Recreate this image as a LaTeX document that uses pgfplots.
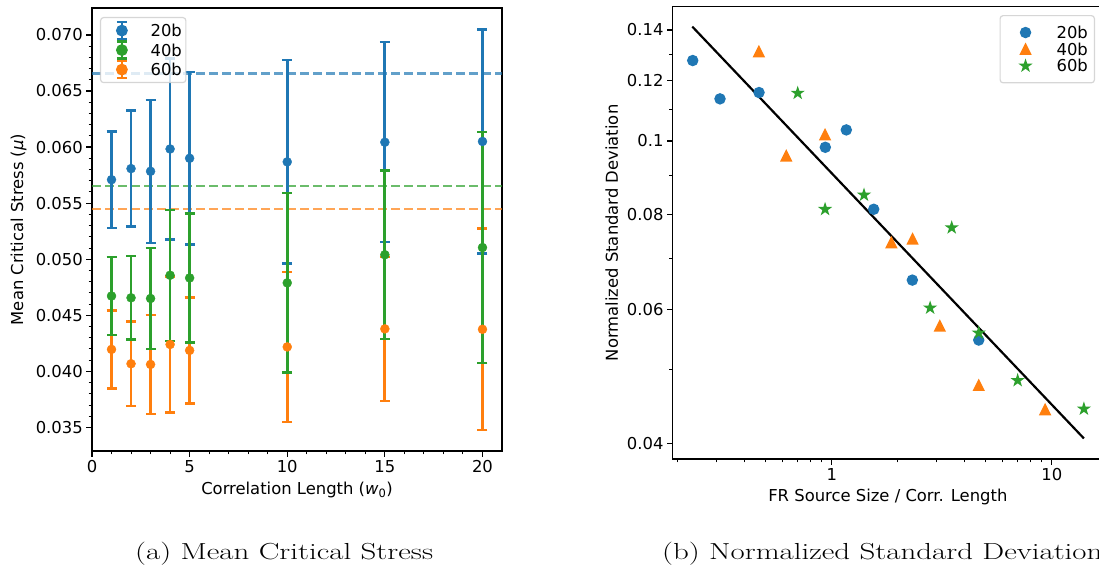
\documentclass[border=0pt]{standalone}
\usepackage{fontspec}
\usepackage{graphicx}
\usepackage{pgfplots}
\pgfplotsset{compat=1.18}

\newfontfamily\dejavu{DejaVu Sans}
\newcommand{\plotfont}{\dejavu\fontsize{16.4pt}{19pt}\selectfont}

\definecolor{tabblue}{HTML}{1F77B4}
\definecolor{taborange}{HTML}{FF7F0E}
\definecolor{tabgreen}{HTML}{2CA02C}

% matplotlib-like triangle and filled star marks
\pgfdeclareplotmark{mtri}{%
  \pgfpathmoveto{\pgfqpoint{0pt}{\pgfplotmarksize}}%
  \pgfpathlineto{\pgfqpoint{-\pgfplotmarksize}{-\pgfplotmarksize}}%
  \pgfpathlineto{\pgfqpoint{\pgfplotmarksize}{-\pgfplotmarksize}}%
  \pgfpathclose\pgfusepathqfillstroke}
\pgfdeclareplotmark{fstar}{%
  \pgfpathmoveto{\pgfpointpolar{90}{\pgfplotmarksize}}%
  \pgfpathlineto{\pgfpointpolar{126}{0.382\pgfplotmarksize}}%
  \pgfpathlineto{\pgfpointpolar{162}{\pgfplotmarksize}}%
  \pgfpathlineto{\pgfpointpolar{198}{0.382\pgfplotmarksize}}%
  \pgfpathlineto{\pgfpointpolar{234}{\pgfplotmarksize}}%
  \pgfpathlineto{\pgfpointpolar{270}{0.382\pgfplotmarksize}}%
  \pgfpathlineto{\pgfpointpolar{306}{\pgfplotmarksize}}%
  \pgfpathlineto{\pgfpointpolar{342}{0.382\pgfplotmarksize}}%
  \pgfpathlineto{\pgfpointpolar{18}{\pgfplotmarksize}}%
  \pgfpathlineto{\pgfpointpolar{54}{0.382\pgfplotmarksize}}%
  \pgfpathclose\pgfusepathqfillstroke}

% legend symbol for an error-bar series
\newcommand{\errlegendimg}[1]{%
  \path[use as bounding box, draw=none, fill=none] (0pt,-6pt) rectangle (36pt,6pt);
  \begin{scope}[opacity=1, sharp corners, #1, line width=2.7pt]
    \draw (17.3pt,-8.5pt) -- (17.3pt,8.5pt);
    \draw[line width=2.4pt] (12.3pt,-8.5pt) -- (22.3pt,-8.5pt) (12.3pt,8.5pt) -- (22.3pt,8.5pt);
    \fill (17.3pt,0pt) circle (4.5pt);
  \end{scope}}

\pgfplotsset{
  mplstyle/.style={
    scale only axis,
    axis line style={line width=1.2pt, black},
    tick align=outside, tick pos=left,
    major tick length=5.7pt, minor tick length=3.3pt,
    major tick style={line width=1.2pt, black},
    minor tick style={line width=1pt, black},
    tick label style={font=\plotfont},
    label style={font=\plotfont},
    legend cell align=left,
    legend style={font=\plotfont, draw=black!20, line width=1.2pt,
      rounded corners=3pt, fill=white, fill opacity=0.8, draw opacity=0.8,
      text opacity=1,
      nodes={inner sep=0pt, text height=12pt, text depth=0pt}},
  },
  errseries/.style={only marks, mark=*, mark size=4.5pt, #1,
    mark options={fill=#1, draw=#1, line width=0.4pt},
    /pgfplots/error bars/y dir=both,
    /pgfplots/error bars/y explicit,
    /pgfplots/error bars/error mark=|,
    /pgfplots/error bars/error bar style={line width=2.8pt, #1},
    /pgfplots/error bars/error mark options={line width=2.4pt, mark size=5pt, #1}},
  meanline/.style={#1, opacity=0.7, line width=2.4pt,
    dash pattern=on 9pt off 4pt, forget plot},
  dotseries/.style={only marks, #1, mark options={fill=#1, draw=#1, line width=1.6pt},
    legend image code/.code={%
      \path[use as bounding box, draw=none, fill=none] (0pt,-6pt) rectangle (36pt,6pt);
      \draw[opacity=1, sharp corners, ##1] plot coordinates {(18.9pt,0pt)};}},
}

\begin{document}
\begin{tikzpicture}
\path[use as bounding box] (0pt,0pt) rectangle (1099pt,571pt);

% ---------------- (a) mean critical stress ----------------
\begin{axis}[mplstyle,
  at={(92pt,120pt)}, anchor=south west, width=410pt, height=443pt,
  xmin=0, xmax=21, ymin=0.0329, ymax=0.0724,
  xtick={0,5,10,15,20}, xticklabels={0,5,10,15,20}, minor x tick num=4,
  ytick={0.035,0.040,0.045,0.050,0.055,0.060,0.065,0.070},
  yticklabels={0.035,0.040,0.045,0.050,0.055,0.060,0.065,0.070},
  minor y tick num=4, scaled y ticks=false,
  xlabel={Correlation Length (\textit{w}\textsubscript{0})},
  ylabel={Mean Critical Stress (\textit{μ})},
  xlabel style={at={(axis description cs:0.5,-0.088)}, anchor=center},
  ylabel style={at={(axis description cs:-0.179,0.5)}, anchor=center},
  legend style={at={(0.0195,0.9797)}, anchor=north west,
    inner xsep=4pt, inner ysep=7pt, /tikz/row sep=7.5pt, /tikz/column sep=10pt},
]
\addplot[meanline=tabblue] coordinates {(0,0.06655) (21,0.06655)};
\addplot[meanline=tabgreen] coordinates {(0,0.05654) (21,0.05654)};
\addplot[meanline=taborange] coordinates {(0,0.05449) (21,0.05449)};

% 20b
\addplot[forget plot, errseries=tabblue] coordinates {
  (1,0.05709) +- (0,0.00429)
  (2,0.05808) +- (0,0.00517)
  (3,0.05784) +- (0,0.00637)
  (4,0.05983) +- (0,0.00808)
  (5,0.05900) +- (0,0.00770)
  (10,0.05868) +- (0,0.00906)
  (15,0.06043) +- (0,0.00892)
  (20,0.06050) +- (0,0.01000)
};
% 60b
\addplot[forget plot, errseries=taborange] coordinates {
  (1,0.04196) +- (0,0.00348)
  (2,0.04068) +- (0,0.00377)
  (3,0.04062) +- (0,0.00440)
  (4,0.04240) +- (0,0.00606)
  (5,0.04187) +- (0,0.00473)
  (10,0.04218) +- (0,0.00667)
  (15,0.04379) +- (0,0.00641)
  (20,0.04375) +- (0,0.00900)
};
% 40b
\addplot[forget plot, errseries=tabgreen] coordinates {
  (1,0.04672) +- (0,0.00349)
  (2,0.04656) +- (0,0.00372)
  (3,0.04650) +- (0,0.00449)
  (4,0.04857) +- (0,0.00584)
  (5,0.04833) +- (0,0.00575)
  (10,0.04789) +- (0,0.00800)
  (15,0.05040) +- (0,0.00752)
  (20,0.05104) +- (0,0.01030)
};

\addlegendimage{legend image code/.code={\errlegendimg{tabblue}}}
\addlegendentry{20b}
\addlegendimage{legend image code/.code={\errlegendimg{tabgreen}}}
\addlegendentry{40b}
\addlegendimage{legend image code/.code={\errlegendimg{taborange}}}
\addlegendentry{60b}
\end{axis}

% ---------------- (b) normalized standard deviation ----------------
\begin{axis}[mplstyle, xmode=log, ymode=log,
  at={(672.7pt,112pt)}, anchor=south west, width=430.3pt, height=452.3pt,
  xmin=0.1894, xmax=17.1, ymin=0.03815, ymax=0.1502,
  xtick={1,10}, xticklabels={1,10},
  minor xtick={0.2,0.3,0.4,0.5,0.6,0.7,0.8,0.9,2,3,4,5,6,7,8,9},
  ytick={0.04,0.06,0.08,0.1,0.12,0.14},
  yticklabels={0.04,0.06,0.08,0.1,0.12,0.14},
  minor ytick={0.05,0.07,0.09,0.11,0.13},
  xlabel={FR Source Size / Corr. Length},
  ylabel={Normalized Standard Deviation},
  xlabel style={at={(axis description cs:0.5,-0.0834)}, anchor=center},
  ylabel style={at={(axis description cs:-0.1418,0.5)}, anchor=center},
  legend style={at={(0.9814,0.9816)}, anchor=north east,
    inner xsep=6.5pt, inner ysep=10.9pt, /tikz/row sep=4.7pt, /tikz/column sep=14pt},
]
\addplot[black, line width=2.2pt, forget plot] coordinates {(0.2325,0.1414) (14.0,0.0406)};

\addplot[dotseries=tabblue, mark=*, mark size=4.9pt] coordinates {
  (0.2335,0.1276) (0.3107,0.1136) (0.4673,0.1158) (0.9352,0.0981)
  (1.165,0.1034) (1.552,0.0813) (2.325,0.0656) (4.658,0.0547)
};
\addlegendentry{20b}
\addplot[dotseries=taborange, mark=mtri, mark size=4.9pt] coordinates {
  (0.4665,0.1311) (0.6217,0.0956) (0.933,0.1019) (1.866,0.0735)
  (2.33,0.0743) (3.10,0.0571) (4.658,0.0477) (9.33,0.0443)
};
\addlegendentry{40b}
\addplot[dotseries=tabgreen, mark=fstar, mark size=4.9pt] coordinates {
  (0.7006,0.1156) (0.933,0.0813) (1.402,0.0849) (2.80,0.0603)
  (3.51,0.0769) (4.658,0.0559) (7.0,0.0484) (14.0,0.0444)
};
\addlegendentry{60b}
\end{axis}

% sub-figure captions
\node[anchor=base west, inner sep=0pt] at (135pt,11.7pt)
  {\scalebox{1.333}[1]{\fontsize{23.2pt}{28pt}\selectfont (a) Mean Critical Stress}};
\node[anchor=base west, inner sep=0pt] at (662pt,11.7pt)
  {\scalebox{1.333}[1]{\fontsize{23.2pt}{28pt}\selectfont (b) Normalized Standard Deviation}};
\end{tikzpicture}
\end{document}
